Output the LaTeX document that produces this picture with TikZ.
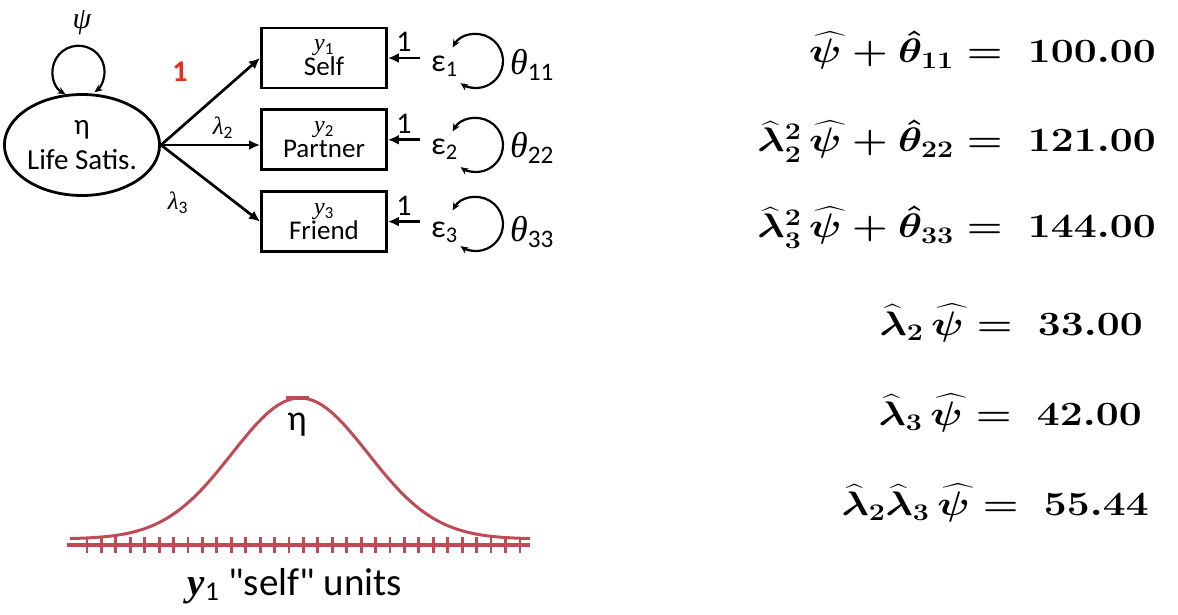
\RequirePackage{fix-cm}
\documentclass[tikz,border=0pt]{standalone}
\usepackage{amsmath}
\usepackage{fontspec}
\setsansfont{Carlito}
\newfontfamily\serifit{Liberation Serif}
\newfontfamily\calplain{Carlito}[Ligatures=TeXOff]
\newcommand\gk[1]{{\serifit\itshape #1}}
\usetikzlibrary{arrows.meta,positioning,shapes.geometric,calc}

\definecolor{bellred}{RGB}{190,75,85}
\definecolor{onered}{RGB}{226,50,30}

\begin{document}
\begin{tikzpicture}[x=1pt, y=1pt,
    lat/.style={ellipse, draw, line width=2.8pt, minimum width=155pt, minimum height=101pt,
                inner sep=0pt, align=center, font=\sffamily\fontsize{29}{35}\selectfont},
    obs/.style={rectangle, draw, line width=2.8pt, minimum width=125pt, minimum height=60pt,
                inner sep=0pt, align=center, font=\sffamily\fontsize{27}{25}\selectfont},
    load/.style={line width=2.7pt, -{Latex[length=11pt,width=10pt]}},
    cov/.style={line width=2.2pt, {Stealth[length=8pt,width=7pt]}-{Stealth[length=8pt,width=7pt]}},
    lbl/.style={font=\sffamily\fontsize{25}{25}\selectfont},
    fix/.style={above, inner sep=5pt, font=\sffamily\fontsize{30}{30}\selectfont},
    epsn/.style={anchor=base west, inner xsep=11pt, inner ysep=0pt, font=\sffamily\fontsize{32}{32}\selectfont},
    thn/.style={anchor=base west, inner sep=0pt, font=\sffamily\fontsize{36}{36}\selectfont},
    eqn/.style={anchor=base east, xscale=1.2, font=\fontsize{34}{34}\selectfont\boldmath}]
    \useasboundingbox (0,0) rectangle (1178,614);

    % measurement model
    \node[lat] (eta) at (82,469) {η\\Life Satis.};
    \node[obs] (self) at (324,556) {{\fontsize{24}{24}\selectfont \gk{y}\textsubscript{1}}\\Self};
    \node[obs, below=19pt of self] (partner) {{\fontsize{24}{24}\selectfont \gk{y}\textsubscript{2}}\\Partner};
    \node[obs, below=19pt of partner] (friend) {{\fontsize{24}{24}\selectfont \gk{y}\textsubscript{3}}\\Friend};

    \node[lbl, font=\sffamily\fontsize{30}{30}\selectfont] (psi) at (82,591) {\gk{ψ}};
    \draw[cov] (eta.108) arc[start angle=240, end angle=-52, radius=26];

    \draw[load] (eta.east) -- (self.west);
    \draw[load] (eta.east) -- (partner.west |- eta.east);
    \draw[load] (eta.east) -- (friend.west);
    \node[font=\sffamily\bfseries\fontsize{30}{30}\selectfont, text=onered] (one) at (180,542) {1};
    \node[lbl] (lam2) at (223,486) {\gk{λ}\textsubscript{2}};
    \node[lbl] (lam3) at (178,411) {\gk{λ}\textsubscript{3}};

    % residuals
    \node[epsn] (e1) at (420,542) {ε\textsubscript{1}};
    \node[epsn] (e2) at (420,459) {ε\textsubscript{2}};
    \node[epsn] (e3) at (420,376) {ε\textsubscript{3}};
    \draw[load] (e1.west |- self.east) -- node[fix] {1} (self.east);
    \draw[load] (e2.west |- partner.east) -- node[fix] {1} (partner.east);
    \draw[load] (e3.west |- friend.east) -- node[fix] {1} (friend.east);

    \coordinate (c1) at (476,553);
    \coordinate (c2) at (476,469);
    \coordinate (c3) at (476,390);
    \foreach \c in {c1,c2,c3}
        \draw[cov] ($(\c)+(150:27)$) arc[start angle=150, end angle=-125, radius=27];
    \node[thn] (t1) at (510,539) {\gk{θ}\textsubscript{11}};
    \node[thn] (t2) at (510,456) {\gk{θ}\textsubscript{22}};
    \node[thn] (t3) at (510,372) {\gk{θ}\textsubscript{33}};

    % distribution of eta
    \draw[bellred, line width=3pt, domain=70:530, samples=120, smooth]
        plot (\x, {75+141*exp(-0.5*((\x-300)/68)^2)});
    \draw[bellred, line width=3.5pt] (286,216) -- (309,216);
    \draw[bellred, line width=4pt] (67,69) -- (530,69);
    \foreach \i in {0,...,30}
        \draw[bellred, line width=2.8pt] ({87+14.43*\i},61) -- ++(0,16);
    \node[font=\sffamily\fontsize{36}{36}\selectfont] (etab) at (297,189) {η};
    \node[anchor=base, font=\calplain\fontsize{39}{39}\selectfont] (units) at (295,19) {{\serifit\bfseries\itshape y}\textsubscript{1} "self" units};

    % estimates
    \node[eqn] (q1) at (1160,551) {$\widehat{\psi} + \hat{\theta}_{11} =\ 100.00$};
    \node[eqn] (q2) at (1160,462) {$\widehat{\lambda}^2_2\,\widehat{\psi} + \hat{\theta}_{22} =\ 121.00$};
    \node[eqn] (q3) at (1160,376) {$\widehat{\lambda}^2_3\,\widehat{\psi} + \hat{\theta}_{33} =\ 144.00$};
    \node[eqn] (q4) at (1147,279) {$\widehat{\lambda}_2\,\widehat{\psi} =\ 33.00$};
    \node[eqn] (q5) at (1146,189) {$\widehat{\lambda}_3\,\widehat{\psi} =\ 42.00$};
    \node[eqn] (q6) at (1153,99) {$\widehat{\lambda}_2\widehat{\lambda}_3\,\widehat{\psi} =\ 55.44$};
\end{tikzpicture}
\end{document}
